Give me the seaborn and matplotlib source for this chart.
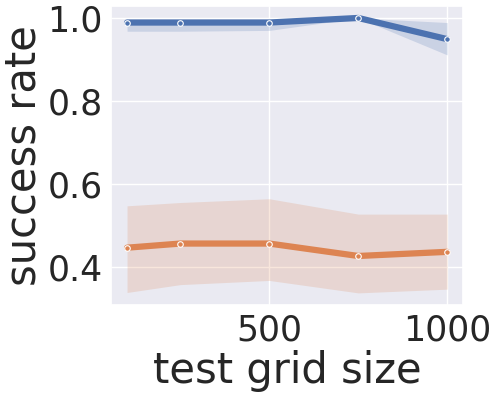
import numpy as np
import pandas as pd
import matplotlib
matplotlib.use("Agg")
import matplotlib.pyplot as plt
import seaborn as sns

grid_sizes = [100, 250, 500, 750, 1000]
blue_mean = [0.989, 0.989, 0.989, 1.0, 0.949]
blue_low = [0.968, 0.968, 0.970, 1.0, 0.911]
blue_high = [0.995, 0.995, 0.995, 1.0, 0.989]
orange_mean = [0.446, 0.456, 0.456, 0.426, 0.436]
orange_low = [0.338, 0.357, 0.367, 0.337, 0.346]
orange_high = [0.547, 0.555, 0.564, 0.527, 0.527]
series = ["A", "B"]
xticks = [500, 1000]
yticks = [0.4, 0.6, 0.8, 1.0]

sns.set_theme(style="darkgrid")
palette = sns.color_palette("deep")

df = pd.DataFrame({
    "test grid size": grid_sizes * 2,
    "success rate": blue_mean + orange_mean,
    "series": [series[0]] * 5 + [series[1]] * 5,
})

fig, ax = plt.subplots(figsize=(4.98, 3.96), dpi=100)
fig.subplots_adjust(left=0.223, right=0.930, top=0.985, bottom=0.230)

sns.lineplot(data=df, x="test grid size", y="success rate", hue="series",
             palette=[palette[0], palette[1]], errorbar=None, linewidth=4.5,
             marker="o", markersize=4, markeredgecolor="white",
             markeredgewidth=0.8, legend=False, ax=ax)
ax.fill_between(grid_sizes, blue_low, blue_high, color=palette[0], alpha=0.2, linewidth=0)
ax.fill_between(grid_sizes, orange_low, orange_high, color=palette[1], alpha=0.2, linewidth=0)

ax.set_xticks(xticks)
ax.set_yticks(yticks)
ax.set_ylim(0.308, 1.029)
ax.set_xlim(55, 1045)
ax.tick_params(axis="both", labelsize=25, length=0, pad=6)
ax.set_xlabel("test grid size", fontsize=30, labelpad=2)
ax.set_ylabel("success rate", fontsize=30, labelpad=2)

fig.savefig("out.png", dpi=100)
